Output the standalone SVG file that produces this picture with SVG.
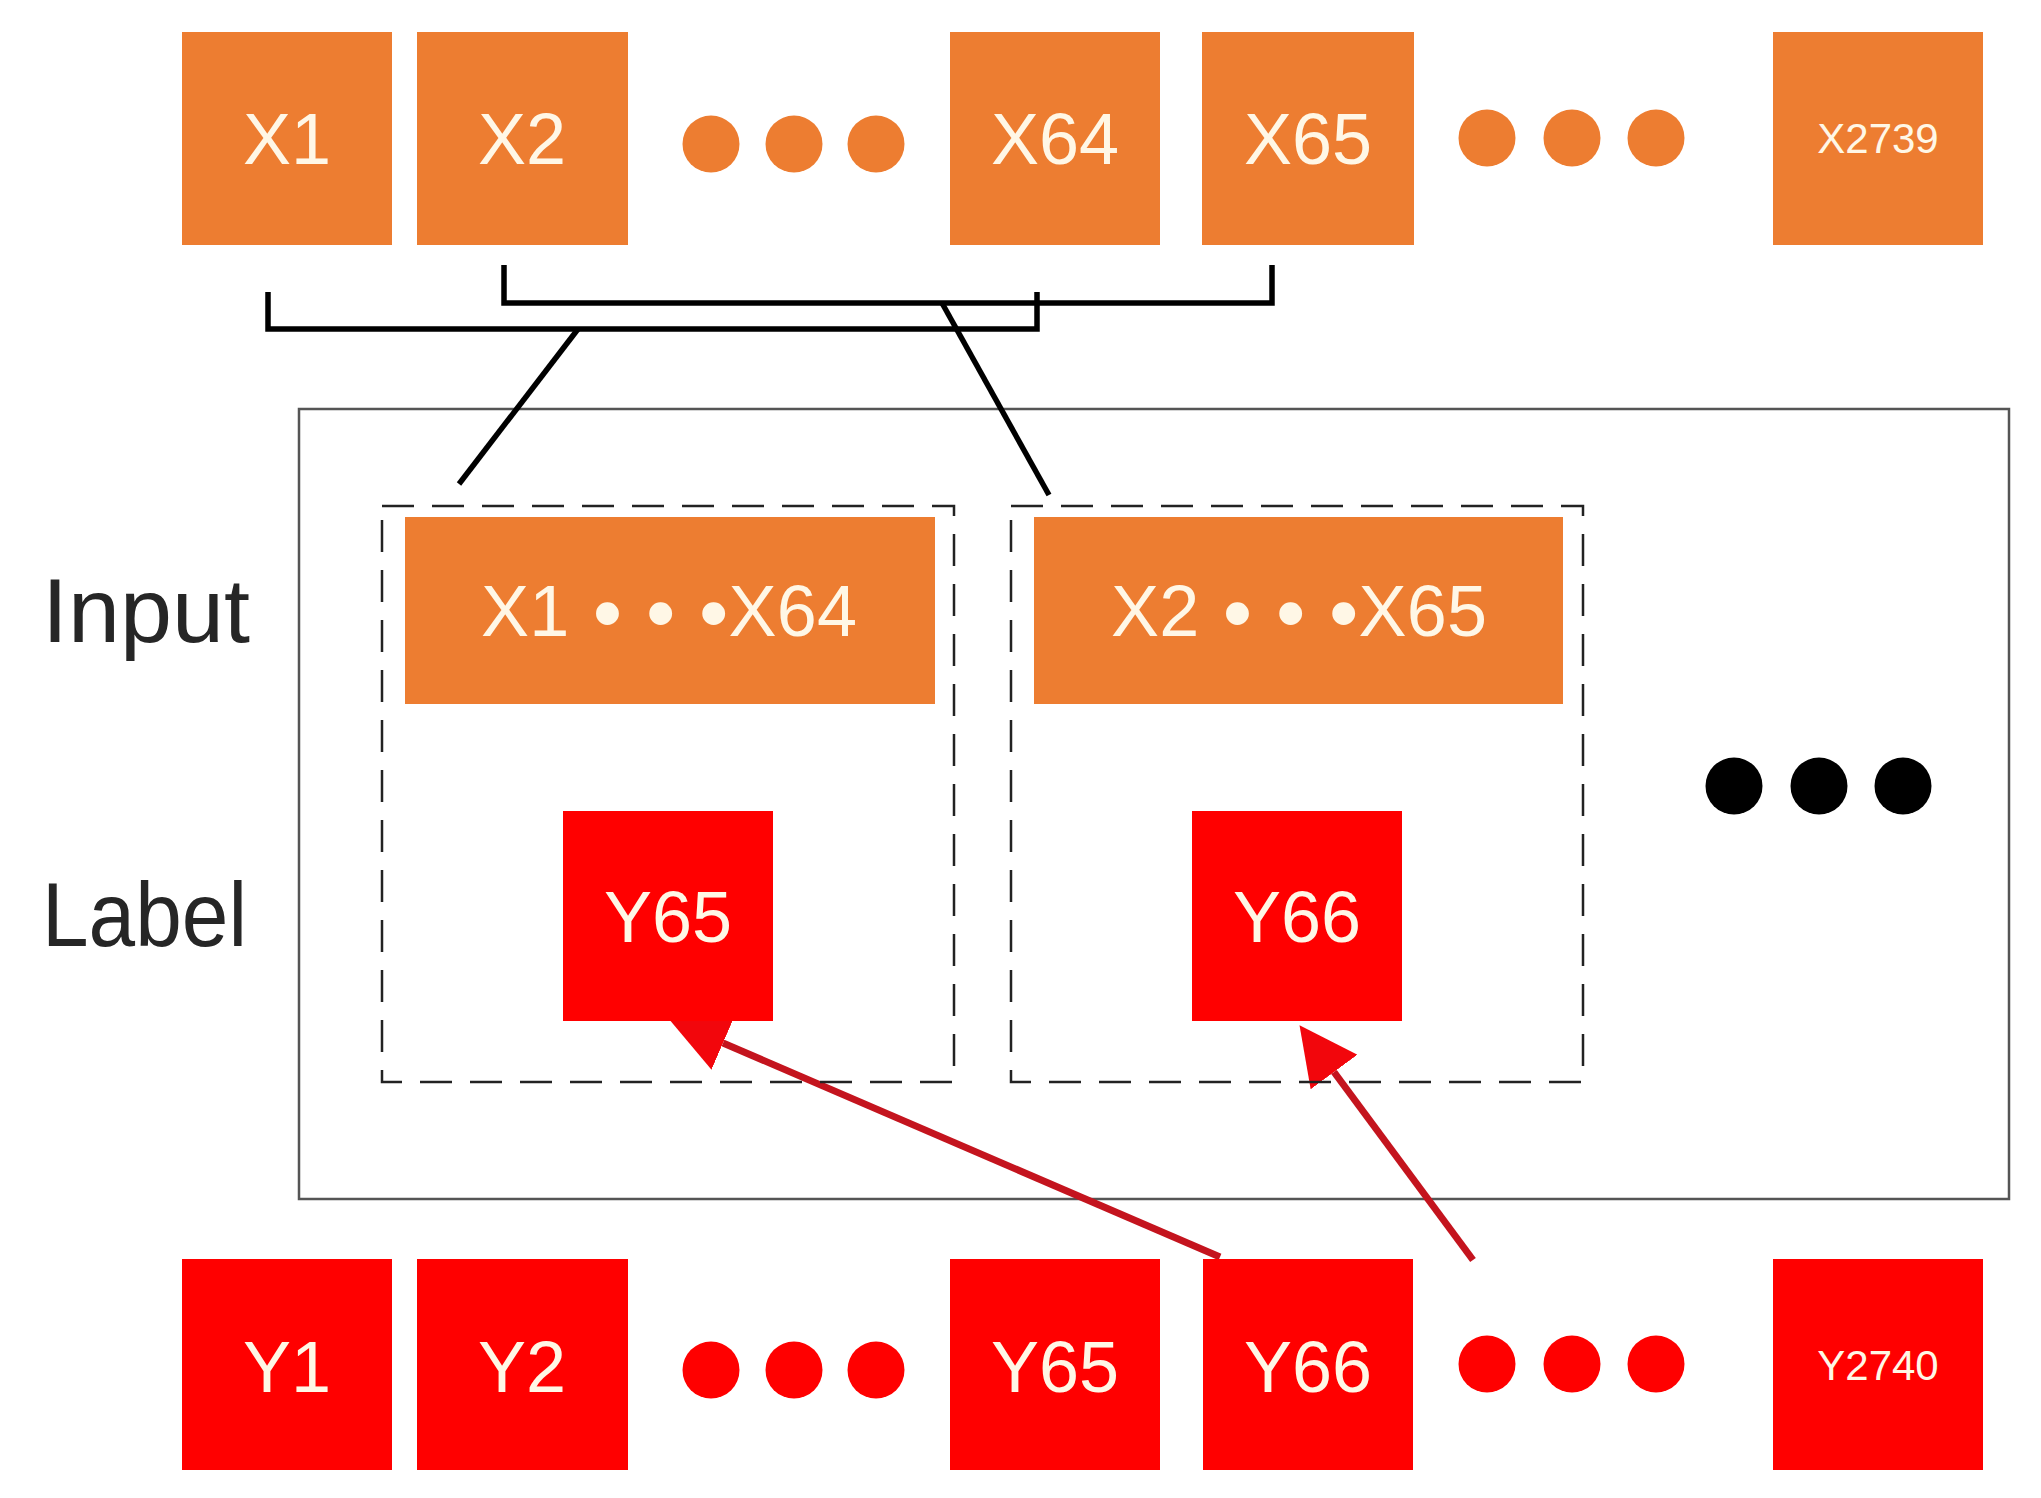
<svg xmlns="http://www.w3.org/2000/svg" width="2041" height="1498" viewBox="0 0 2041 1498">
<style>
.bg{fill:#ffffff}
.ox{fill:#ED7D31}
.rd{fill:#FF0000}
.t{font-family:"Liberation Sans",Arial,sans-serif;fill:#FFF7E6;text-anchor:middle}
.big{font-size:72px}
.sm{font-size:42px}
.bul{font-size:84px}
.side{font-family:"Liberation Sans",Arial,sans-serif;font-size:90px;fill:#262626}
.frame{fill:none;stroke:#555555;stroke-width:2.5}
.dash{fill:none;stroke:#222222;stroke-width:2.5;stroke-dasharray:32 18}
.blk{fill:none;stroke:#000000;stroke-width:5.5}
.arr{fill:none;stroke:#C4141E;stroke-width:7}
</style>
<defs>
<marker id="ah" markerUnits="userSpaceOnUse" viewBox="0 -29 58 58" refX="0" refY="0" markerWidth="58" markerHeight="58" orient="auto">
<path d="M0,-29 L58,0 L0,29 Z" fill="#F2060C"/>
</marker>
</defs>
<rect class="bg" x="0" y="0" width="2041" height="1498"/>

<g id="frame">
<rect class="frame" x="299" y="409" width="1710" height="790"/>
</g>

<g id="connectors">
<path class="blk" d="M268 292 V329 H1037 V292"/>
<path class="blk" d="M504 265 V303 H1272 V265"/>
<line class="blk" x1="578" y1="329" x2="459" y2="484"/>
<line class="blk" x1="942" y1="303" x2="1049" y2="495"/>
<line class="arr" x1="1220" y1="1257" x2="723" y2="1043" marker-end="url(#ah)"/>
<line class="arr" x1="1473" y1="1260" x2="1334" y2="1072" marker-end="url(#ah)"/>
</g>

<g id="x1"><rect class="ox" x="182" y="32" width="210" height="213"/><text class="t big" x="287" y="164">X1</text></g>
<g id="x2"><rect class="ox" x="417" y="32" width="211" height="213"/><text class="t big" x="522" y="164">X2</text></g>
<g id="xdots1"><circle class="ox" cx="711" cy="144" r="28.5"/><circle class="ox" cx="794" cy="144" r="28.5"/><circle class="ox" cx="876" cy="144" r="28.5"/></g>
<g id="x64"><rect class="ox" x="950" y="32" width="210" height="213"/><text class="t big" x="1055" y="164">X64</text></g>
<g id="x65"><rect class="ox" x="1202" y="32" width="212" height="213"/><text class="t big" x="1308" y="164">X65</text></g>
<g id="xdots2"><circle class="ox" cx="1487" cy="138" r="28.5"/><circle class="ox" cx="1572" cy="138" r="28.5"/><circle class="ox" cx="1656" cy="138" r="28.5"/></g>
<g id="x2739"><rect class="ox" x="1773" y="32" width="210" height="213"/><text class="t sm" x="1878" y="153">X2739</text></g>

<g id="input-label"><text class="side" x="42" y="642" textLength="208" lengthAdjust="spacingAndGlyphs">Input</text></g>
<g id="label-label"><text class="side" x="42" y="946" textLength="205" lengthAdjust="spacingAndGlyphs">Label</text></g>

<g id="window1">
<rect class="dash" x="382" y="506" width="572" height="576"/>
<rect class="ox" x="405" y="517" width="530" height="187"/>
<text class="t big" x="669" y="636" textLength="376" lengthAdjust="spacing">X1<tspan class="bul" dy="5"> • • •</tspan><tspan dy="-5">X64</tspan></text>
</g>
<g id="y65-target"><rect class="rd" x="563" y="811" width="210" height="210"/><text class="t big" x="668" y="942">Y65</text></g>

<g id="window2">
<rect class="dash" x="1011" y="506" width="572" height="576"/>
<rect class="ox" x="1034" y="517" width="529" height="187"/>
<text class="t big" x="1299" y="636" textLength="376" lengthAdjust="spacing">X2<tspan class="bul" dy="5"> • • •</tspan><tspan dy="-5">X65</tspan></text>
</g>
<g id="y66-target"><rect class="rd" x="1192" y="811" width="210" height="210"/><text class="t big" x="1297" y="942">Y66</text></g>

<g id="bdots"><circle cx="1734" cy="786" r="28.5" fill="#000"/><circle cx="1819" cy="786" r="28.5" fill="#000"/><circle cx="1903" cy="786" r="28.5" fill="#000"/></g>

<g id="y1"><rect class="rd" x="182" y="1259" width="210" height="211"/><text class="t big" x="287" y="1392">Y1</text></g>
<g id="y2"><rect class="rd" x="417" y="1259" width="211" height="211"/><text class="t big" x="522" y="1392">Y2</text></g>
<g id="ydots1"><circle class="rd" cx="711" cy="1370" r="28.5"/><circle class="rd" cx="794" cy="1370" r="28.5"/><circle class="rd" cx="876" cy="1370" r="28.5"/></g>
<g id="y65"><rect class="rd" x="950" y="1259" width="210" height="211"/><text class="t big" x="1055" y="1392">Y65</text></g>
<g id="y66"><rect class="rd" x="1203" y="1259" width="210" height="211"/><text class="t big" x="1308" y="1392">Y66</text></g>
<g id="ydots2"><circle class="rd" cx="1487" cy="1364" r="28.5"/><circle class="rd" cx="1572" cy="1364" r="28.5"/><circle class="rd" cx="1656" cy="1364" r="28.5"/></g>
<g id="y2740"><rect class="rd" x="1773" y="1259" width="210" height="211"/><text class="t sm" x="1878" y="1380">Y2740</text></g>
</svg>
